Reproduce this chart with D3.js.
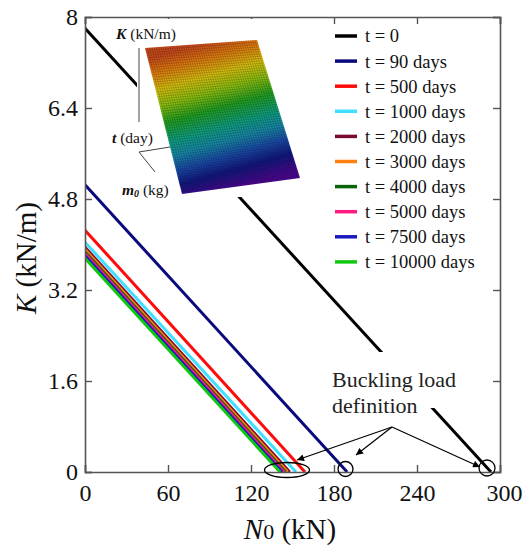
<!DOCTYPE html>
<html>
<head>
<meta charset="utf-8">
<script src="https://cdn.jsdelivr.net/npm/d3@7"></script>
<style>
  body { margin: 0; background: #fff; }
</style>
</head>
<body>
<svg id="chart" width="527" height="545" style="font-family: 'Liberation Serif', 'Times New Roman', serif;"></svg>
<script>
// series: one straight line per time step, from (0, K0) down to (Nb, 0)
const labels = ["t = 0", "t = 90 days", "t = 500 days", "t = 1000 days", "t = 2000 days",
                "t = 3000 days", "t = 4000 days", "t = 5000 days", "t = 7500 days", "t = 10000 days"];
const colors = ["#000000", "#0a0a7c", "#ff0a0a", "#3fe0ff", "#7a0a30",
                "#ff8010", "#0a640a", "#ff1a80", "#1a1ac0", "#10c810"];
const kStart = [7.8, 5.05, 4.25, 4.04, 3.95, 3.91, 3.87, 3.84, 3.80, 3.76];   // K at N0 = 0
const nBuckle = [293.5, 189.5, 159, 152.5, 148, 146.5, 145, 144, 142.5, 141]; // N0 at K = 0

const xTicks = [0, 60, 120, 180, 240, 300];
const yTicks = [0, 1.6, 3.2, 4.8, 6.4, 8];

const SERIF = "'Liberation Serif', 'Times New Roman', serif";

const svg = d3.select("#chart");
const margin = { left: 85, right: 27, top: 17, bottom: 73 };
const W = 527, H = 545;

const x = d3.scaleLinear().domain([0, 300]).range([margin.left, W - margin.right]);
const y = d3.scaleLinear().domain([0, 8]).range([H - margin.bottom, margin.top]);

//_________________ Lines
const lineGen = d3.line().x(d => x(d[0])).y(d => y(d[1]));
const series = labels.map((l, i) => ({ label: l, color: colors[i], pts: [[0, kStart[i]], [nBuckle[i], 0]] }));

svg.append("clipPath").attr("id", "plotClip")
  .append("rect").attr("x", x(0)).attr("y", y(8)).attr("width", x(300) - x(0)).attr("height", y(0) - y(8));

svg.append("g").attr("clip-path", "url(#plotClip)")
  .selectAll("path.series").data(series).enter().append("path")
  .attr("class", "series")
  .attr("d", d => lineGen(d.pts))
  .attr("fill", "none")
  .attr("stroke", d => d.color)
  .attr("stroke-width", 3);

//_________________ Frame + ticks (inward)
const fr = svg.append("g");
fr.append("g").attr("transform", `translate(0,${y(0)})`)
  .call(d3.axisBottom(x).tickValues(xTicks).tickSize(-7).tickPadding(12).tickFormat(d3.format("d")));
fr.append("g").attr("transform", `translate(0,${y(8)})`)
  .call(d3.axisTop(x).tickValues(xTicks).tickSize(-7).tickFormat(""));
fr.append("g").attr("transform", `translate(${x(0)},0)`)
  .call(d3.axisLeft(y).tickValues(yTicks).tickSize(-7).tickPadding(7).tickFormat(d => d === 0 || d === 8 ? d : d.toFixed(1)));
fr.append("g").attr("transform", `translate(${x(300)},0)`)
  .call(d3.axisRight(y).tickValues(yTicks).tickSize(-7).tickFormat(""));
fr.selectAll("g").attr("font-family", SERIF);
fr.selectAll(".domain").attr("stroke", "#555").attr("stroke-width", 1.6);
fr.selectAll(".tick line").attr("stroke", "#555").attr("stroke-width", 1.4);
fr.selectAll(".tick text").attr("font-size", 24).attr("fill", "#111");
fr.selectAll(".tick text").filter(d => d === 300).attr("dx", 4);

//_________________ Inset (3D surface thumbnail)
svg.append("rect").attr("x", 137).attr("y", 19).attr("width", 168).attr("height", 178).attr("fill", "#fff");

const defs = svg.append("defs");
const grad = defs.append("linearGradient").attr("id", "surfGrad")
  .attr("gradientUnits", "userSpaceOnUse")
  .attr("x1", 201).attr("y1", 44).attr("x2", 241).attr("y2", 186);
const stops = [
  [0, "#c84a1c"], [0.1, "#e07a10"], [0.22, "#d8c010"], [0.33, "#8cc010"],
  [0.45, "#22a022"], [0.58, "#10a080"], [0.68, "#1888a8"], [0.78, "#1a4aa8"],
  [0.88, "#121880"], [1, "#4a0890"]
];
stops.forEach(s => grad.append("stop").attr("offset", s[0]).attr("stop-color", s[1]));

const TL = [145, 48], TR = [257, 40], BR = [300, 178], BL = [182, 194];
svg.append("path")
  .attr("d", d3.line()([TL, TR, BR, BL]) + "Z")
  .attr("fill", "url(#surfGrad)");

// mesh texture
const lerp = (a, b, t) => [a[0] + (b[0] - a[0]) * t, a[1] + (b[1] - a[1]) * t];
const mesh = svg.append("g").attr("stroke", "#000").attr("stroke-opacity", 0.28).attr("stroke-width", 0.6);
d3.range(1, 60).forEach(i => {
  const t = i / 60;
  const a = lerp(TL, BL, t), b = lerp(TR, BR, t);
  mesh.append("line").attr("x1", a[0]).attr("y1", a[1]).attr("x2", b[0]).attr("y2", b[1]);
});
d3.range(1, 50).forEach(i => {
  const t = i / 50;
  const a = lerp(TL, TR, t), b = lerp(BL, BR, t);
  mesh.append("line").attr("x1", a[0]).attr("y1", a[1]).attr("x2", b[0]).attr("y2", b[1]);
});

// inset axes
const ia = svg.append("g").attr("stroke", "#444").attr("stroke-width", 1).attr("fill", "none");
ia.append("line").attr("x1", 139).attr("y1", 48).attr("x2", 139).attr("y2", 122);
ia.append("line").attr("x1", 139).attr("y1", 152).attr("x2", 170).attr("y2", 147);
ia.append("line").attr("x1", 139).attr("y1", 152).attr("x2", 155).attr("y2", 172);

const itx = svg.append("g").attr("font-size", 15.5).attr("fill", "#111").attr("font-family", SERIF);
itx.append("text").attr("x", 116).attr("y", 39)
  .call(t => { t.append("tspan").attr("font-weight", "bold").attr("font-style", "italic").text("K"); t.append("tspan").text(" (kN/m)"); });
itx.append("text").attr("x", 112).attr("y", 143)
  .call(t => { t.append("tspan").attr("font-weight", "bold").attr("font-style", "italic").text("t"); t.append("tspan").text(" (day)"); });
itx.append("text").attr("x", 122).attr("y", 195)
  .call(t => {
    t.append("tspan").attr("font-weight", "bold").attr("font-style", "italic").text("m");
    t.append("tspan").attr("font-weight", "bold").attr("font-style", "italic").attr("font-size", 10).attr("dy", 2).text("0");
    t.append("tspan").attr("dy", -2).text(" (kg)");
  });

//_________________ Legend
const legend = svg.append("g").attr("transform", "translate(335,36)").attr("font-family", SERIF);
const row = legend.selectAll("g").data(series).enter().append("g")
  .attr("transform", (d, i) => `translate(0,${i * 25.1})`);
row.append("line").attr("x1", 0).attr("x2", 22).attr("y1", 0).attr("y2", 0)
  .attr("stroke", d => d.color).attr("stroke-width", 3.5);
row.append("text").attr("x", 30).attr("y", 0).attr("dy", "0.35em")
  .attr("font-size", 18.5).attr("fill", "#111").text(d => d.label);

//_________________ Buckling load annotation
svg.append("rect").attr("x", 328).attr("y", 352).attr("width", 137).attr("height", 56).attr("fill", "#fff");
const ann = svg.append("text").attr("font-size", 22).attr("fill", "#222").attr("font-family", SERIF);
ann.append("tspan").attr("x", 332).attr("y", 387).text("Buckling load");
ann.append("tspan").attr("x", 332).attr("y", 413).text("definition");

defs.append("marker").attr("id", "arrow").attr("viewBox", "0 0 10 10")
  .attr("refX", 10).attr("refY", 5).attr("markerWidth", 9).attr("markerHeight", 7)
  .attr("markerUnits", "userSpaceOnUse").attr("orient", "auto")
  .append("path").attr("d", "M0,0L10,5L0,10Z").attr("fill", "#000");

const origin = [392, 427];
const targets = [[297, 460], [356, 455], [480, 467]];
svg.selectAll("line.arrow").data(targets).enter().append("line")
  .attr("class", "arrow")
  .attr("x1", origin[0]).attr("y1", origin[1])
  .attr("x2", d => d[0]).attr("y2", d => d[1])
  .attr("stroke", "#000").attr("stroke-width", 1.2)
  .attr("marker-end", "url(#arrow)");

const rings = svg.append("g").attr("fill", "none").attr("stroke", "#000").attr("stroke-width", 1.3);
rings.append("ellipse").attr("cx", 287).attr("cy", 470).attr("rx", 22.5).attr("ry", 7.5);
rings.append("circle").attr("cx", 345.5).attr("cy", 469).attr("r", 7.5);
rings.append("circle").attr("cx", 487).attr("cy", 468).attr("r", 8);

//_________________ Axis titles
const xl = svg.append("text").attr("x", 290).attr("y", 539).attr("text-anchor", "middle")
  .attr("font-size", 29).attr("fill", "#111").attr("font-family", SERIF);
xl.append("tspan").attr("font-style", "italic").text("N");
xl.append("tspan").attr("font-size", 22).text("0");
xl.append("tspan").text(" (kN)");

const yl = svg.append("text").attr("transform", "translate(36,258) rotate(-90)")
  .attr("text-anchor", "middle").attr("font-size", 29).attr("fill", "#111").attr("font-family", SERIF);
yl.append("tspan").attr("font-style", "italic").text("K");
yl.append("tspan").text(" (kN/m)");
</script>
</body>
</html>
